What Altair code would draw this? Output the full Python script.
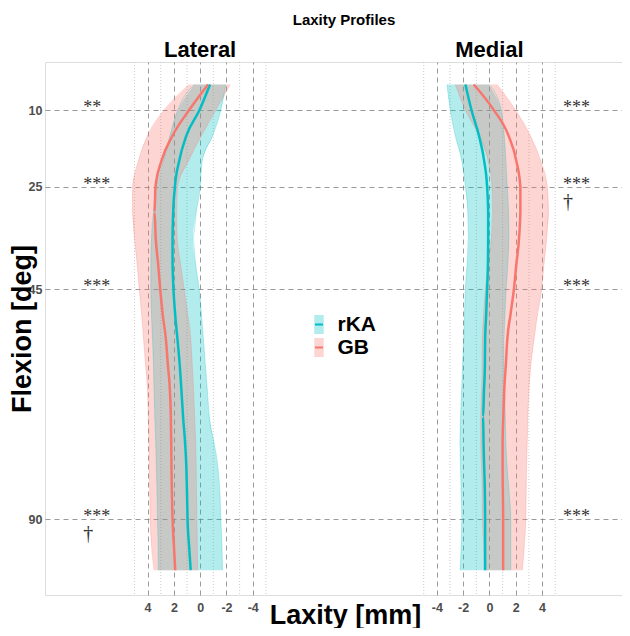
import altair as alt
import pandas as pd

# ---------------- data ----------------
flexion = [5, 10, 15, 20, 25, 30, 35, 40, 45, 50, 55, 60, 65, 70, 75, 80, 85, 90, 95, 100]

# Lateral compartment (laxity in mm)
lat_rka_mean  = [-0.75, 0.05, 1.05, 1.6, 1.92, 2.05, 2.1, 2.1, 2.03, 1.9, 1.72, 1.55, 1.42, 1.3, 1.15, 1.05, 1.0, 0.96, 0.85, 0.72]
lat_rka_upper = [0.45, 1.7, 2.3, 2.8, 3.37, 3.55, 3.7, 3.75, 3.75, 3.7, 3.62, 3.55, 3.5, 3.45, 3.38, 3.33, 3.28, 3.24, 3.2, 3.19]
lat_rka_lower = [-1.95, -1.57, -0.95, -0.15, 0.0, 0.3, 0.55, 0.35, 0.08, -0.1, -0.25, -0.4, -0.55, -0.7, -1.05, -1.35, -1.5, -1.57, -1.65, -1.7]

lat_gb_mean  = [-0.6, 0.84, 2.1, 2.95, 3.4, 3.47, 3.38, 3.2, 3.04, 2.85, 2.6, 2.45, 2.3, 2.23, 2.2, 2.18, 2.15, 2.1, 2.0, 1.9]
lat_gb_upper = [0.84, 2.73, 4.0, 4.7, 5.14, 5.15, 5.0, 4.8, 4.63, 4.45, 4.3, 4.15, 4.0, 3.95, 3.9, 3.87, 3.83, 3.8, 3.7, 3.49]
lat_gb_lower = [-2.28, -1.19, -0.1, 0.9, 1.72, 1.8, 1.75, 1.5, 1.22, 0.95, 0.71, 0.6, 0.5, 0.42, 0.35, 0.3, 0.28, 0.25, 0.22, 0.2]

# Medial compartment (laxity in mm)
med_rka_mean  = [-1.83, -1.37, -0.8, -0.4, -0.18, -0.1, -0.1, -0.12, -0.18, -0.25, -0.33, -0.35, -0.42, -0.48, -0.45, -0.4, -0.35, -0.33, -0.33, -0.33]
med_rka_lower = [-3.23, -2.98, -2.6, -2.1, -1.83, -1.65, -1.6, -1.7, -1.83, -1.9, -1.96, -2.05, -2.12, -2.2, -2.25, -2.2, -2.15, -2.1, -2.15, -2.23]
med_rka_upper = [-0.05, 0.9, 1.12, 1.25, 1.35, 1.45, 1.48, 1.4, 1.27, 1.18, 1.09, 1.1, 1.15, 1.2, 1.25, 1.35, 1.5, 1.62, 1.62, 1.62]

med_gb_mean  = [-1.2, 0.33, 1.45, 2.05, 2.35, 2.35, 2.25, 2.05, 1.86, 1.6, 1.35, 1.24, 1.12, 1.05, 1.0, 1.0, 1.02, 1.04, 1.04, 1.04]
med_gb_lower = [-2.6, -1.83, -0.8, -0.1, 0.2, 0.25, 0.15, -0.1, -0.3, -0.45, -0.56, -0.55, -0.6, -0.66, -0.66, -0.6, -0.55, -0.53, -0.45, -0.4]
med_gb_upper = [0.58, 1.98, 3.1, 3.9, 4.4, 4.5, 4.35, 4.15, 3.97, 3.65, 3.38, 3.14, 3.0, 2.92, 2.87, 2.82, 2.79, 2.76, 2.65, 2.5]

series_names = ["rKA", "GB"]
series_colors = ["#00BFC4", "#F8766D"]

panels = ["Lateral", "Medial"]
medial_shift = 22          # medial panel drawn to the right of the lateral one
tick_labels = [-4, -2, 0, 2, 4]
minor_grid = [-5, -3, -1, 1, 3, 5]
y_ticks = [10, 25, 45, 90]
chart_title = "Laxity Profiles"

# significance annotations
ann_panel = ["Lateral", "Lateral", "Lateral", "Lateral", "Lateral",
             "Medial", "Medial", "Medial", "Medial", "Medial"]
ann_flex = [10, 25, 45, 90, 90, 10, 25, 45, 90, 25]
ann_label = ["**", "***", "***", "***", "†", "***", "***", "***", "***", "†"]
ann_pos = ["above", "above", "above", "above", "below",
           "above", "above", "above", "above", "below"]
ann_offset = {"Lateral": 8.9, "Medial": 5.6}   # distance from panel centre (mm)


def to_plot(panel, v):
    return -v if panel == "Lateral" else v + medial_shift


rows = []
for panel, ser, mean, lo, hi in [
    ("Lateral", "rKA", lat_rka_mean, lat_rka_lower, lat_rka_upper),
    ("Medial", "rKA", med_rka_mean, med_rka_lower, med_rka_upper),
    ("Lateral", "GB", lat_gb_mean, lat_gb_lower, lat_gb_upper),
    ("Medial", "GB", med_gb_mean, med_gb_lower, med_gb_upper),
]:
    for f, m, a, b in zip(flexion, mean, lo, hi):
        xa, xb = to_plot(panel, a), to_plot(panel, b)
        rows.append(dict(panel=panel, series=ser, group=ser, flex=f,
                         xm=to_plot(panel, m), xlo=min(xa, xb), xhi=max(xa, xb)))
df = pd.DataFrame(rows)

df_minor = pd.DataFrame({"x": [to_plot(p, v) for p in panels for v in minor_grid]})
df_panels = pd.DataFrame({"panel": panels, "x": [to_plot(p, 0) for p in panels]})
df_title = pd.DataFrame({"t": [chart_title]})
df_ann = pd.DataFrame({
    "panel": ann_panel, "flex": ann_flex, "label": ann_label, "pos": ann_pos,
    "x": [to_plot(p, ann_offset[p]) for p in ann_panel],
})
x_tick_positions = [to_plot(p, v) for p in panels for v in tick_labels]

# ---------------- scales / axes ----------------
FONT = "Liberation Sans"
PLOT_W, PLOT_H = 577, 533
xscale = alt.Scale(domain=[-11.8, -11.8 + PLOT_W / 13.15], nice=False, zero=False)
yscale = alt.Scale(domain=[0.6, 104.85], reverse=True, nice=False, zero=False)

xaxis = alt.Axis(
    values=x_tick_positions,
    labelExpr="datum.value < 11 ? toString(0 - datum.value) : toString(datum.value - 22)",
    grid=True, gridDash=[5, 4], gridColor="#808080", gridWidth=0.8,
    ticks=False, domain=False,
    labelFont=FONT, labelFontSize=12.5, labelFontWeight="bold", labelColor="#4d4d4d",
    labelPadding=6,
    title="Laxity [mm]", titleFont=FONT, titleFontSize=27, titleFontWeight="bold",
    titleColor="black", titleX=300, titleY=28, titleAlign="center",
    titleBaseline="alphabetic",
)
yaxis = alt.Axis(
    values=y_ticks,
    grid=True, gridDash=[5, 4], gridColor="#808080", gridWidth=0.8,
    ticks=False, domain=False,
    labelFont=FONT, labelFontSize=12.5, labelFontWeight="bold", labelColor="#4d4d4d",
    labelPadding=3,
    title="Flexion [deg]", titleFont=FONT, titleFontSize=27, titleFontWeight="bold",
    titleColor="black", titleAngle=270, titleX=-14.5, titleY=266.5,
    titleAlign="center", titleBaseline="alphabetic",
)

legend_common = dict(
    title=None, orient="none", legendX=263.5, legendY=252, symbolSize=361,
    labelFont=FONT, labelFontSize=21, labelFontWeight="bold", labelColor="black",
    labelOffset=8, padding=0, rowPadding=1,
)
fill_legend = alt.Legend(symbolType="M-0.5,-1H0.5V1H-0.5Z", symbolOpacity=0.3,
                         symbolStrokeWidth=0, **legend_common)
stroke_legend = alt.Legend(symbolType="M-0.42,0H0.42", symbolStrokeWidth=2,
                           labelOpacity=0, **legend_common)

fill_enc = alt.Fill("series:N", sort=series_names,
                    scale=alt.Scale(domain=series_names, range=series_colors),
                    legend=fill_legend)
stroke_enc = alt.Stroke("group:N", sort=series_names,
                        scale=alt.Scale(range=series_colors), legend=stroke_legend)


def X(field):
    return alt.X(f"{field}:Q", scale=xscale, axis=xaxis)


def Y(field):
    return alt.Y(f"{field}:Q", scale=yscale, axis=yaxis)


minor = alt.Chart(df_minor).mark_rule(
    color="#bdbdbd", strokeDash=[1, 2], strokeWidth=0.8
).encode(x=X("x"))

bands = []
for s in series_names:
    bands.append(
        alt.Chart(df[df.series == s]).mark_area(
            orient="horizontal", interpolate="monotone", fillOpacity=0.3
        ).encode(
            y=Y("flex"), x=X("xlo"), x2=alt.X2("xhi"),
            fill=fill_enc, detail="panel:N",
        )
    )

edges = alt.Chart(df).transform_fold(["xlo", "xhi"], as_=["edge", "xe"]).mark_line(
    orient="horizontal", interpolate="monotone", strokeWidth=0.6, strokeOpacity=0.45
).encode(
    y=Y("flex"), x=X("xe"), stroke=stroke_enc,
    detail=[alt.Detail("panel:N"), alt.Detail("edge:N")],
    order=alt.Order("flex:Q"),
)

means = alt.Chart(df).mark_line(
    orient="horizontal", interpolate="monotone", strokeWidth=2.5
).encode(
    y=Y("flex"), x=X("xm"), stroke=stroke_enc,
    detail="panel:N", order=alt.Order("flex:Q"),
)

panel_labels = alt.Chart(df_panels).mark_text(
    font=FONT, fontSize=22, fontWeight="bold", color="black",
    baseline="alphabetic", align="center"
).encode(x=X("x"), y=alt.value(-5), text="panel:N")

title_text = alt.Chart(df_title).mark_text(
    font=FONT, fontSize=15, fontWeight="bold", color="black",
    baseline="alphabetic", align="center"
).encode(x=alt.value(299), y=alt.value(-37), text="t:N")

ann_above = alt.Chart(df_ann[df_ann.pos == "above"]).mark_text(
    font="Liberation Serif", fontSize=18, color="#333333",
    align="left", baseline="alphabetic", dy=3
).encode(x=X("x"), y=Y("flex"), text="label:N")

ann_below = alt.Chart(df_ann[df_ann.pos == "below"]).mark_text(
    font="Liberation Serif", fontSize=20, color="#333333",
    align="left", baseline="top", dy=5
).encode(x=X("x"), y=Y("flex"), text="label:N")

chart = alt.layer(
    minor, *bands, edges, means, panel_labels, title_text, ann_above, ann_below
).properties(
    width=PLOT_W, height=PLOT_H,
    autosize=alt.AutoSizeParams(type="none"),
    padding={"left": 37, "top": 54, "right": 0, "bottom": 33},
).configure_view(stroke=None).configure(background="white")

chart.save("out.html", embed_options={"renderer": "svg", "actions": False})
